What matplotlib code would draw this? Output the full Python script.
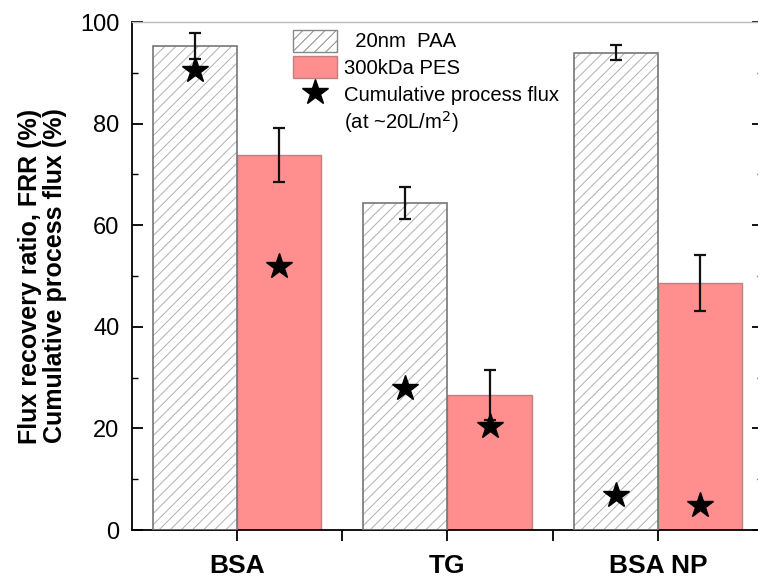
import numpy as np
import matplotlib.pyplot as plt
from matplotlib.patches import Patch
from matplotlib.lines import Line2D
from matplotlib.ticker import MultipleLocator, FixedLocator

plt.rcParams['font.family'] = ['Liberation Sans', 'DejaVu Sans']
plt.rcParams['hatch.linewidth'] = 0.7

# FRR values (%) and error bars for each foulant
foulants = ['BSA', 'TG', 'BSA NP']
paa_frr = [95.3, 64.4, 94.0]
paa_err = [2.5, 3.2, 1.4]
pes_frr = [73.8, 26.6, 48.6]
pes_err = [5.3, 4.9, 5.5]
# cumulative process flux at ~20 L/m2 (%)
paa_flux = [90.6, 28.0, 6.9]
pes_flux = [52.0, 20.5, 4.9]

fig = plt.figure(figsize=(7.58, 5.78), dpi=100)
ax = fig.add_axes([0.1741, 0.0830, 0.8325, 0.8789])

x = np.arange(len(foulants))
w = 0.4
red = '#ff8f8f'
edge = '#777777'

# hatched PAA bars: light hatch first, darker outline on top
ax.bar(x - w/2, paa_frr, w, color='white', edgecolor='#b0b0b0', hatch='///',
       linewidth=0, zorder=2)
ax.bar(x - w/2, paa_frr, w, fill=False, edgecolor=edge, linewidth=1.2, zorder=3)
ax.bar(x + w/2, pes_frr, w, color=red, edgecolor='#c08080', linewidth=1.0, zorder=2)

ax.errorbar(x - w/2, paa_frr, yerr=paa_err, fmt='none', ecolor='#111111',
            elinewidth=1.6, capsize=4.5, capthick=1.6, zorder=4)
ax.errorbar(x + w/2, pes_frr, yerr=pes_err, fmt='none', ecolor='#111111',
            elinewidth=1.6, capsize=4.5, capthick=1.6, zorder=4)

ax.plot(x - w/2, paa_flux, '*', color='black', markersize=19, linestyle='none', zorder=5)
ax.plot(x + w/2, pes_flux, '*', color='black', markersize=19, linestyle='none', zorder=5)

ax.set_xlim(-0.5, 2.5)
ax.set_ylim(0, 100)
ax.set_xticks(x)
ax.set_xticklabels(foulants, fontsize=19, fontweight='bold')
ax.xaxis.set_minor_locator(FixedLocator([0.5, 1.5]))
ax.yaxis.set_major_locator(MultipleLocator(20))
ax.yaxis.set_minor_locator(MultipleLocator(10))
ax.tick_params(axis='x', which='both', direction='out', length=8, width=1.3, pad=9)
ax.tick_params(axis='y', which='major', direction='in', length=8, width=1.3,
               labelsize=17, right=True, pad=9)
ax.tick_params(axis='y', which='minor', direction='in', length=4, width=1.0, right=True)

for s in ['left', 'bottom']:
    ax.spines[s].set_linewidth(1.3)
ax.spines['top'].set_color('#bbbbbb')
ax.spines['top'].set_linewidth(1.0)

ax.set_ylabel('Flux recovery ratio, FRR (%)\nCumulative process flux (%)',
              fontsize=18, fontweight='bold', linespacing=1.05)
ax.yaxis.set_label_coords(-0.103, 0.5)

handles = [
    Patch(facecolor='white', edgecolor='#888888', hatch='///', linewidth=1.0),
    Patch(facecolor=red, edgecolor='#c08080', linewidth=1.0),
    Line2D([], [], marker='*', color='black', markersize=19, linestyle='none'),
    Patch(facecolor='none', edgecolor='none'),
]
labels = ['  20nm  PAA', '300kDa PES', 'Cumulative process flux', '(at ~20L/m$^2$)']
ax.legend(handles, labels, loc='upper left', bbox_to_anchor=(0.255, 0.985),
          frameon=False, fontsize=14.6, handlelength=2.2, handleheight=1.3,
          handletextpad=0.3, labelspacing=0.22, borderpad=0, borderaxespad=0)

fig.savefig('out.png', dpi=100)
